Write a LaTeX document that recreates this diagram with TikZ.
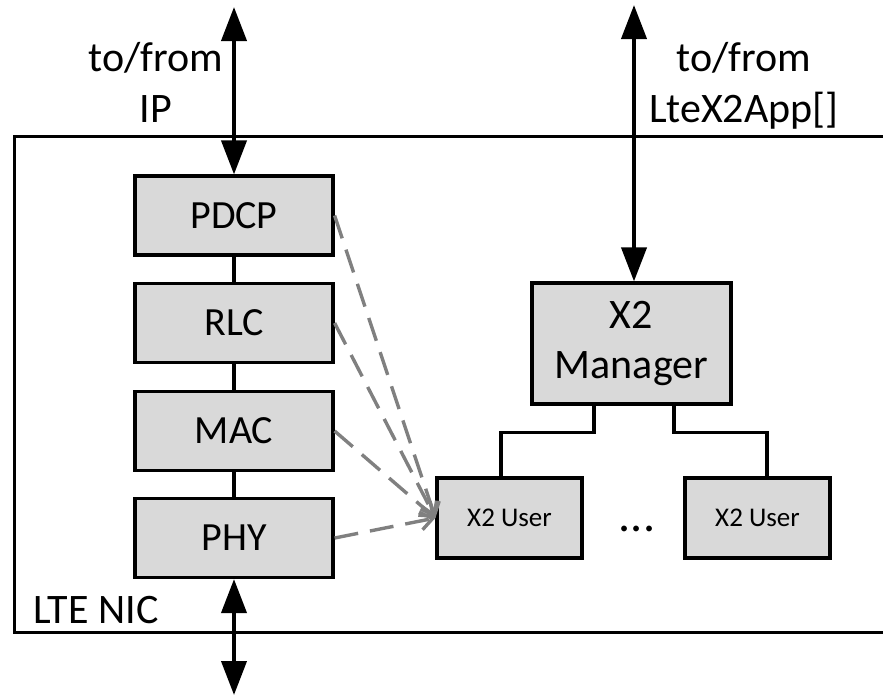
\documentclass[tikz,border=0pt]{standalone}
\usepackage{fontspec}
\setmainfont{Carlito}
\usepackage{tikz}
\usetikzlibrary{positioning, arrows.meta}
\definecolor{boxGray}{RGB}{217,217,217}
\definecolor{linkGray}{RGB}{128,128,128}
\tikzstyle{layerBox}=[draw, fill=boxGray, line width=1.6pt, minimum width=99pt, minimum height=39.5pt, inner sep=0pt, font=\fontsize{20}{24}\selectfont]
\tikzstyle{userBox}=[draw, fill=boxGray, line width=1.6pt, minimum width=72.5pt, minimum height=40pt, inner sep=0pt, font=\fontsize{13.5}{16}\selectfont]
\tikzstyle{ioArrow}=[{Triangle[length=17pt,width=12.5pt]}-{Triangle[length=17pt,width=12.5pt]}, line width=2pt]
\tikzstyle{stackLink}=[line width=1.6pt]
\tikzstyle{ctrlLink}=[-{Straight Barb[length=6pt,width=9pt]}, linkGray, line width=1.7pt, dash pattern=on 12pt off 6pt]
\tikzstyle{ioLabel}=[align=center, inner sep=0pt, font=\fontsize{21}{25.5}\selectfont]

\begin{document}
\begin{tikzpicture}[x=0.5pt, y=-0.5pt]
  \useasboundingbox (0,0) rectangle (883,697);

  % LTE NIC frame (open to the right)
  \draw[line width=1.5pt] (883,136) -- (14,136) -- (14,632) -- (883,632);
  \node[anchor=base west, inner sep=0pt, font=\fontsize{21}{24}\selectfont] (nic) at (33,623) {LTE NIC};

  % protocol stack
  \node[layerBox] (pdcp) at (234,215.5) {PDCP};
  \node[layerBox] (rlc) at (234,323) {RLC};
  \node[layerBox] (mac) at (234,431) {MAC};
  \node[layerBox] (phy) at (234,538) {PHY};

  \draw[stackLink] (pdcp) -- (rlc);
  \draw[stackLink] (rlc) -- (mac);
  \draw[stackLink] (mac) -- (phy);

  % X2 part
  \node[layerBox, minimum width=99.5pt, minimum height=60.5pt, align=center, font=\fontsize{21}{25}\selectfont] (x2mgr) at (631.5,343.5) {X2\\Manager};
  \node[userBox] (x2u1) at (509.5,518) {X2 User};
  \node[userBox] (x2u2) at (757.5,518) {X2 User};
  \node[anchor=base, inner sep=0pt, font=\fontsize{24}{24}\selectfont] (dots) at (637,531) {...};

  \draw[stackLink] ([xshift=-18.75pt]x2mgr.south) -- ++(0,27) -| ([xshift=-4.25pt]x2u1.north);
  \draw[stackLink] ([xshift=21.25pt]x2mgr.south) -- ++(0,27) -| ([xshift=4.75pt]x2u2.north);

  \draw[ctrlLink] (pdcp.east) -- (x2u1.west);
  \draw[ctrlLink] (rlc.east) -- (x2u1.west);
  \draw[ctrlLink] (mac.east) -- (x2u1.west);
  \draw[ctrlLink] (phy.east) -- (x2u1.west);

  % outside connections
  \coordinate (ipEnd) at (234,7);
  \coordinate (appEnd) at (634,5);
  \coordinate (radioEnd) at (234,695);

  \draw[ioArrow] (ipEnd) -- (pdcp.north);
  \draw[ioArrow] (appEnd) -- (x2mgr.north -| appEnd);
  \draw[ioArrow] (phy.south) -- (radioEnd);

  \node[ioLabel, anchor=base] (ipLabel) at (156,122) {to/from\\IP};
  \node[ioLabel, anchor=base] (appLabel) at (744,122) {to/from\\LteX2App[]};
\end{tikzpicture}
\end{document}
